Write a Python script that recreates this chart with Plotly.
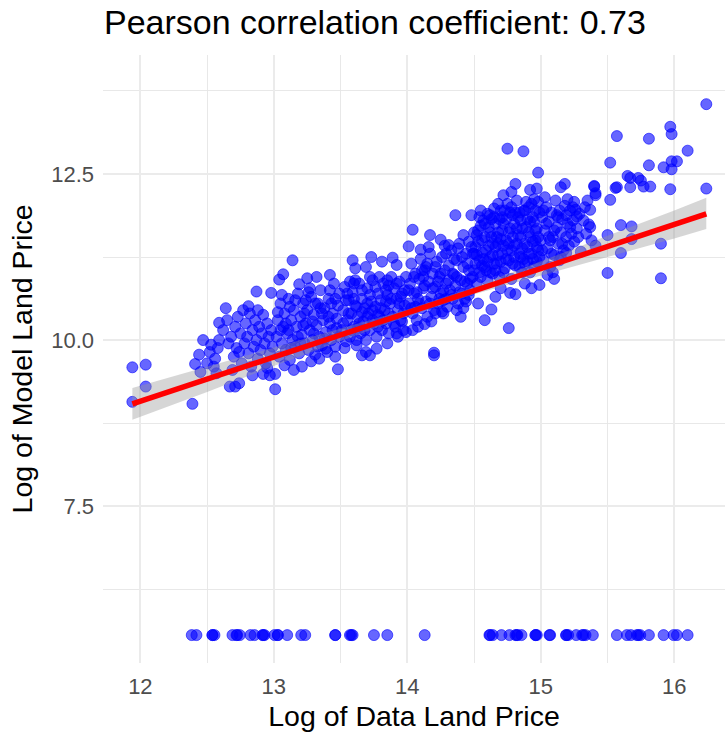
import plotly.graph_objects as go

# ---- data (x = log data land price, y = log model land price) ----
pts_left = [(11.94,9.59),(12.04,9.63),(12.04,9.30),(11.94,9.07),(12.39,9.04),(12.41,9.64),(12.45,9.52),
            (12.47,10.00),(12.52,9.82),(12.56,9.72),(12.59,10.00),(12.59,10.26),(12.55,9.60),(12.50,9.65),
            (12.58,9.88),(12.53,9.93),(12.44,9.78),(12.57,9.50)]

pts_127 = [(12.62,10.15),(12.65,10.30),(12.66,9.95),(12.68,10.05),(12.70,9.75),(12.71,10.20),(12.72,9.88),
           (12.73,10.35),(12.75,10.10),(12.76,9.65),(12.78,9.95),(12.79,10.25),(12.80,10.05),(12.81,9.80),
           (12.82,10.40),(12.83,9.60),(12.84,10.15),(12.85,9.90),(12.86,10.30),(12.87,10.00),(12.88,9.72),
           (12.89,10.20),(12.90,9.85),(12.91,10.10),(12.92,10.38),(12.93,9.95),(12.94,9.65),(12.95,10.25),
           (12.96,10.05),(12.97,9.80),(12.98,10.15),(12.99,9.90),(12.64,10.48),(12.81,10.51),(12.87,10.73),
           (12.98,10.71),(12.67,9.30),(12.71,9.30),(12.74,9.35),(12.84,9.47),(12.92,9.49),(12.97,9.47),
           (12.69,9.55),(12.77,10.45),(12.74,9.82),(12.88,10.45),(12.95,9.58)]

pts_132 = [(13.02,10.05),(13.03,10.30),(13.04,9.75),(13.05,10.55),(13.06,9.95),(13.07,10.20),(13.08,10.40),
           (13.09,9.85),(13.10,10.10),(13.11,10.62),(13.12,9.70),(13.13,10.30),(13.14,10.00),(13.15,10.45),
           (13.16,9.90),(13.17,10.20),(13.18,10.70),(13.19,9.80),(13.20,10.35),(13.21,10.08),(13.22,10.55),
           (13.23,9.95),(13.24,10.25),(13.25,10.45),(13.26,9.85),(13.27,10.15),(13.28,10.65),(13.29,10.00),
           (13.30,10.38),(13.31,9.78),(13.32,10.22),(13.33,10.55),(13.34,10.05),(13.35,10.75),(13.36,9.92),
           (13.37,10.30),(13.38,10.48),(13.39,10.12),(13.40,9.82),(13.41,10.62),(13.42,10.25),(13.43,10.00),
           (13.44,10.40),(13.45,10.85),(13.46,9.90),(13.47,10.18),(13.48,10.52),(13.49,10.70),(13.05,10.15),
           (13.12,10.50),(13.18,10.05),(13.24,10.60),(13.30,10.10),(13.36,10.40),(13.42,10.75),(13.47,10.32),
           (13.04,10.91),(13.07,10.99),(13.14,11.20),(13.19,10.84),(13.25,10.93),(13.32,10.95),(13.42,10.98),
           (13.27,10.78),(13.01,9.26),(13.01,9.49),(13.21,9.60),(13.34,9.72),(13.48,9.56),(13.46,9.75),
           (13.39,9.87),(13.08,9.62),(13.15,9.55),(13.28,9.68),
           (13.03,10.42),(13.06,10.68),(13.09,10.25),(13.13,9.88),(13.16,10.60),(13.20,9.95),(13.23,10.40),
           (13.26,10.72),(13.29,10.28),(13.33,9.90),(13.35,10.48),(13.38,10.02),(13.41,10.35),(13.44,10.15),
           (13.46,10.62),(13.49,10.05),(13.11,10.15),(13.22,10.22),(13.31,10.55),(13.43,10.55)]

pts_137 = [(13.51,10.15),(13.52,10.45),(13.53,10.80),(13.54,9.98),(13.55,10.30),(13.56,10.60),(13.57,10.05),
           (13.58,10.40),(13.59,10.72),(13.60,10.20),(13.61,10.52),(13.62,9.92),(13.63,10.35),(13.64,10.85),
           (13.65,10.10),(13.66,10.62),(13.67,10.28),(13.68,10.48),(13.69,10.00),(13.70,10.78),(13.71,10.40),
           (13.72,10.15),(13.73,10.58),(13.74,10.90),(13.75,10.25),(13.76,10.50),(13.77,10.05),(13.78,10.70),
           (13.79,10.35),(13.80,10.60),(13.81,10.15),(13.82,10.85),(13.83,10.45),(13.84,10.25),(13.85,10.68),
           (13.86,10.10),(13.87,10.55),(13.88,10.95),(13.89,10.35),(13.90,10.78),(13.91,10.20),(13.92,10.62),
           (13.93,10.45),(13.94,10.88),(13.95,10.30),(13.96,10.70),(13.97,10.15),(13.98,10.52),(13.99,10.95),
           (13.55,10.70),(13.63,10.18),(13.70,10.55),(13.78,10.38),(13.86,10.82),(13.93,10.05),(13.57,10.88),
           (13.66,10.42),(13.74,10.30),(13.84,10.58),(13.97,10.40),(13.59,11.20),(13.61,11.08),(13.69,11.10),
           (13.73,11.25),(13.81,11.18),(13.89,11.24),(13.92,11.13),(13.79,10.95),(13.61,10.90),(13.66,9.77),
           (13.72,9.77),(13.69,9.82),(13.77,9.87),(13.62,10.00),(13.92,10.10),(13.99,10.12),(13.85,9.95),
           (13.53,9.88),
           (13.52,10.25),(13.54,10.60),(13.56,10.40),(13.58,10.15),(13.60,10.85),(13.62,10.50),(13.64,10.25),
           (13.66,10.75),(13.68,10.15),(13.70,10.35),(13.72,10.68),(13.74,10.45),(13.76,10.80),(13.78,10.20),
           (13.80,10.48),(13.82,10.30),(13.84,10.75),(13.86,10.40),(13.88,10.62),(13.90,10.25),(13.92,10.85),
           (13.94,10.55),(13.96,10.28),(13.98,10.75),(13.60,10.62),(13.72,10.95),(13.85,10.90),(13.95,10.65)]

pts_142 = [(14.01,10.55),(14.02,10.85),(14.03,11.15),(14.04,10.40),(14.05,10.70),(14.06,11.00),(14.07,10.30),
           (14.08,10.62),(14.09,10.92),(14.10,11.22),(14.11,10.48),(14.12,10.78),(14.13,11.05),(14.14,10.58),
           (14.15,10.35),(14.16,10.88),(14.17,11.30),(14.18,10.65),(14.19,11.00),(14.20,10.45),(14.21,10.80),
           (14.22,11.18),(14.23,10.55),(14.24,10.95),(14.25,10.70),(14.26,11.25),(14.27,10.60),(14.28,11.05),
           (14.29,10.85),(14.30,10.50),(14.31,11.12),(14.32,10.75),(14.33,11.35),(14.34,10.62),(14.35,10.98),
           (14.36,10.82),(14.37,11.20),(14.38,10.55),(14.39,11.45),(14.40,10.90),(14.41,10.70),(14.42,11.10),
           (14.43,10.62),(14.44,11.30),(14.45,10.85),(14.46,11.05),(14.47,10.75),(14.48,11.40),(14.49,10.95),
           (14.06,10.50),(14.14,11.10),(14.21,10.40),(14.29,11.30),(14.37,10.45),(14.44,10.58),(14.08,10.20),
           (14.18,10.28),(14.27,10.40),(14.34,11.00),(14.42,10.48),(14.12,10.95),(14.24,10.62),(14.46,10.68),
           (14.04,11.66),(14.17,11.58),(14.25,11.51),(14.36,11.88),(14.48,11.88),(14.01,11.41),(14.10,11.36),
           (14.31,11.43),(14.42,11.58),(14.20,9.81),(14.20,9.77),(14.13,10.24),(14.26,10.43),(14.40,10.35),
           (14.04,10.15),
           (14.01,10.75),(14.03,10.48),(14.05,10.95),(14.07,10.72),(14.09,10.55),(14.11,11.05),(14.13,10.82),
           (14.15,11.15),(14.17,10.55),(14.19,10.78),(14.21,11.10),(14.23,10.88),(14.25,11.00),(14.27,10.75),
           (14.29,10.62),(14.31,10.90),(14.33,10.68),(14.35,11.22),(14.37,10.95),(14.39,10.72),(14.41,11.25),
           (14.43,10.88),(14.45,11.15),(14.47,10.92),(14.49,11.30),(14.16,11.40),(14.28,11.42),(14.38,11.38),
           (14.46,11.48)]

pts_147 = [(14.50,11.05),(14.51,11.40),(14.52,10.85),(14.53,11.65),(14.54,11.20),(14.55,10.95),(14.56,11.50),
           (14.57,11.80),(14.58,11.10),(14.59,11.35),(14.60,10.90),(14.61,11.70),(14.62,11.25),(14.63,11.55),
           (14.64,11.00),(14.65,11.85),(14.66,11.40),(14.67,11.15),(14.68,11.62),(14.69,10.95),(14.70,11.95),
           (14.71,11.30),(14.72,11.75),(14.73,11.08),(14.74,11.50),(14.75,12.05),(14.76,11.20),(14.77,11.68),
           (14.78,10.92),(14.79,11.88),(14.80,11.42),(14.81,11.12),(14.82,12.10),(14.83,11.58),(14.84,11.30),
           (14.85,11.80),(14.86,11.02),(14.87,11.95),(14.88,11.45),(14.89,11.70),(14.90,11.18),(14.91,12.00),
           (14.92,11.55),(14.93,11.30),(14.94,11.85),(14.95,11.10),(14.96,11.65),(14.97,11.40),(14.98,12.08),
           (14.99,11.25),(14.50,11.62),(14.52,11.28),(14.54,11.85),(14.56,11.12),(14.58,11.55),(14.60,11.90),
           (14.62,11.02),(14.64,11.45),(14.66,11.75),(14.68,11.28),(14.70,11.52),(14.72,11.02),(14.74,11.82),
           (14.76,11.45),(14.78,12.00),(14.80,11.25),(14.82,11.68),(14.84,11.92),(14.86,11.38),(14.88,11.15),
           (14.90,11.82),(14.92,11.02),(14.94,11.48),(14.96,11.95),(14.98,11.55),(14.51,11.15),(14.55,11.72),
           (14.59,11.05),(14.63,11.82),(14.67,11.55),(14.71,11.65),(14.75,11.35),(14.79,11.15),(14.83,11.85),
           (14.87,11.22),(14.91,11.62),(14.95,11.78),(14.99,11.92),(14.53,11.48),(14.61,11.42),(14.69,11.82),
           (14.77,11.92),(14.85,11.55),(14.93,12.05),(14.97,11.18),(14.75,12.88),(14.87,12.84),(14.98,12.52),
           (14.81,12.35),(14.72,12.18),(14.65,11.98),(14.92,12.26),(14.97,12.28),(14.78,12.23),(14.76,10.18),
           (14.58,10.30),(14.63,10.46),(14.77,10.71),(14.81,10.69),(14.93,10.78),(14.99,10.83),(14.53,10.55),
           (14.66,10.65),(14.88,10.85),(14.70,10.78),
           (14.50,11.30),(14.52,11.58),(14.54,11.02),(14.56,11.32),(14.58,11.75),(14.60,11.18),(14.62,11.62),
           (14.64,11.28),(14.66,11.05),(14.68,11.45),(14.70,11.18),(14.72,11.42),(14.74,11.22),(14.76,11.62),
           (14.78,11.35),(14.80,11.75),(14.82,11.45),(14.84,11.10),(14.86,11.68),(14.88,11.95),(14.90,11.40),
           (14.92,11.78),(14.94,11.22),(14.96,11.50),(14.98,11.35),(14.55,11.95),(14.62,11.88),(14.68,12.05),
           (14.73,11.95),(14.81,11.92),(14.89,12.08),(14.95,12.12),(14.57,11.22),(14.65,11.15),(14.71,11.85),
           (14.79,11.55),(14.85,11.25),(14.91,11.30),(14.97,11.68)]

pts_152 = [(15.00,11.50),(15.01,11.85),(15.02,11.20),(15.03,11.65),(15.04,12.00),(15.05,11.38),(15.06,11.78),
           (15.07,11.10),(15.08,11.92),(15.09,11.55),(15.10,11.28),(15.11,12.10),(15.12,11.70),(15.13,11.45),
           (15.14,11.95),(15.15,11.62),(15.16,11.82),(15.17,11.35),(15.18,12.02),(15.19,11.55),(15.20,11.75),
           (15.21,11.42),(15.22,11.95),(15.23,11.60),(15.24,11.80),(15.25,11.48),(15.27,11.68),(15.29,11.90),
           (15.03,12.15),(15.06,11.55),(15.09,11.02),(15.12,11.88),(15.15,11.25),(15.20,12.12),(15.28,11.55),
           (15.05,10.98),(15.10,10.92),(15.18,12.35),(15.25,12.08),(15.26,11.96),(15.27,11.86),(15.19,11.31),
           (15.30,11.33),(15.15,12.30),
           (15.01,11.35),(15.04,11.75),(15.07,11.50),(15.10,11.65),(15.13,11.85),(15.16,11.45),(15.19,11.88),
           (15.22,11.70),(15.02,11.95),(15.08,11.30),(15.14,11.20),(15.24,12.00)]

pts_right = [(15.33,12.00),(15.36,11.74),(15.34,11.60),(15.41,11.42),(15.40,12.32),(15.41,12.18),(15.52,12.11),
             (15.52,12.67),(15.57,13.07),(15.50,11.01),(15.50,11.58),(15.56,12.29),(16.24,13.55),(15.97,13.21),
             (15.98,13.10),(15.81,13.03),(16.10,12.85),(15.81,12.63),(15.92,12.60),(15.98,12.57),(15.98,12.69),
             (16.02,12.69),(15.65,12.47),(15.67,12.44),(15.73,12.44),(15.75,12.40),(15.77,12.31),(15.82,12.31),
             (15.57,12.30),(15.67,12.30),(15.97,12.27),(16.24,12.28),(15.40,12.31),(15.41,12.21),(15.60,11.73),
             (15.68,11.71),(15.68,11.52),(15.60,11.31),(15.90,11.45),(15.90,10.93),(15.37,11.96),(15.37,11.70),
             (15.38,11.50),(15.32,11.80),(15.35,12.10)]

# points sitting on the floor of the panel
floor_y = 5.56
floor_x = [12.385,12.42,12.54,12.54,12.555,12.69,12.725,12.72,12.745,12.825,12.855,12.915,12.92,12.93,13.005,
           13.03,13.03,13.10,13.205,13.235,13.46,13.46,13.57,13.58,13.59,13.75,13.85,14.13,14.615,14.62,14.64,
           14.705,14.765,14.81,14.82,14.825,14.855,14.96,14.96,14.97,15.065,15.07,15.19,15.19,15.205,15.265,
           15.31,15.32,15.335,15.39,15.57,15.645,15.675,15.72,15.73,15.745,15.81,15.92,15.995,16.02,16.10]

# fitted line and its confidence band
fit_x = [11.94, 12.5, 13.0, 13.5, 14.0, 14.5, 15.0, 15.5, 16.0, 16.24]
fit_y = [9.04, 9.41, 9.75, 10.08, 10.41, 10.75, 11.08, 11.41, 11.74, 11.90]
band_lo = [8.80, 9.22, 9.61, 9.99, 10.36, 10.69, 10.97, 11.25, 11.53, 11.67]
band_hi = [9.28, 9.60, 9.89, 10.17, 10.46, 10.80, 11.19, 11.57, 11.95, 12.14]

title_text = "Pearson correlation coefficient: 0.73"
x_title = "Log of Data Land Price"
y_title = "Log of Model Land Price"
x_ticks = [12, 13, 14, 15, 16]
y_ticks = [7.5, 10.0, 12.5]
y_ticklabels = ["7.5", "10.0", "12.5"]

# ---- build ----
cloud = pts_left + pts_127 + pts_132 + pts_137 + pts_142 + pts_147 + pts_152 + pts_right
xs = [p[0] for p in cloud] + floor_x
ys = [p[1] for p in cloud] + [floor_y] * len(floor_x)

FONT = "Liberation Sans, Arial, Helvetica, sans-serif"

fig = go.Figure()
fig.add_trace(go.Scatter(
    x=xs, y=ys, mode="markers",
    marker=dict(size=11, color="rgba(0,0,255,0.6)",
                line=dict(color="rgba(0,0,255,0.6)", width=1)),
    hoverinfo="skip", showlegend=False))
fig.add_trace(go.Scatter(
    x=fit_x + fit_x[::-1], y=band_hi + band_lo[::-1],
    fill="toself", fillcolor="rgba(153,153,153,0.4)", line=dict(width=0),
    mode="lines", hoverinfo="skip", showlegend=False))
fig.add_trace(go.Scatter(
    x=fit_x, y=fit_y, mode="lines", line=dict(color="#FF0000", width=5.5),
    hoverinfo="skip", showlegend=False))

grid_major = "#EBEBEB"
grid_minor = "#E6E6E6"

fig.update_layout(
    width=725, height=736,
    margin=dict(l=103, r=0, t=55, b=73),
    paper_bgcolor="white", plot_bgcolor="white",
    font=dict(family=FONT, color="black"),
    title=dict(text=title_text, x=104 / 725, xref="container", xanchor="left",
               y=1 - 22 / 736, yref="container", yanchor="middle",
               font=dict(size=34, color="black", family=FONT)),
    xaxis=dict(range=[11.72, 16.38], tickvals=x_ticks, ticktext=[str(t) for t in x_ticks],
               automargin=False, ticklabelstandoff=8,
               showgrid=True, gridcolor=grid_major, gridwidth=1.8,
               minor=dict(tickvals=[12.5, 13.5, 14.5, 15.5, 16.5], showgrid=True,
                          gridcolor=grid_minor, gridwidth=0.9),
               zeroline=False, showline=False, ticks="",
               tickfont=dict(size=22, color="#4D4D4D", family=FONT),
               title=dict(text=x_title, font=dict(size=28.5, color="black", family=FONT), standoff=8)),
    yaxis=dict(range=[5.14, 14.29], tickvals=y_ticks, ticktext=y_ticklabels,
               automargin=False, ticklabelstandoff=8,
               showgrid=True, gridcolor=grid_major, gridwidth=1.8,
               minor=dict(tickvals=[6.25, 8.75, 11.25, 13.75], showgrid=True,
                          gridcolor=grid_minor, gridwidth=0.9),
               zeroline=False, showline=False, ticks="",
               tickfont=dict(size=22, color="#4D4D4D", family=FONT),
               title=dict(text=y_title, font=dict(size=28.5, color="black", family=FONT), standoff=10)),
)

# the default page has an 8px body margin; remove it so the figure fills the window exactly
fig.write_html("out.html", config={"displayModeBar": False, "staticPlot": True},
               post_script="document.body.style.margin='0';")
